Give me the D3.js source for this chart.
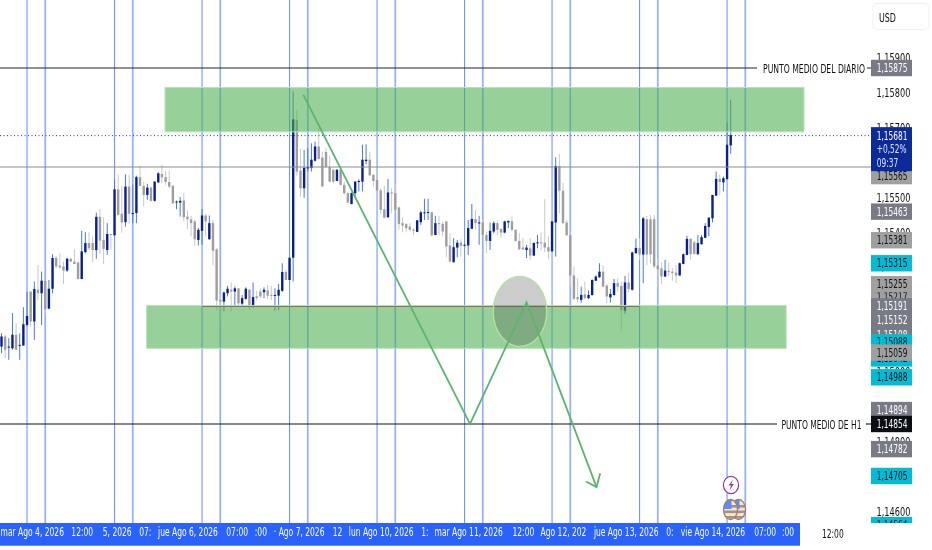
<!DOCTYPE html>
<html>
<head>
<meta charset="utf-8">
<script src="https://cdn.jsdelivr.net/npm/d3@7"></script>
<style>
    body { margin: 0; background: #fff; }
    svg { display: block; filter: blur(0.3px); }
    text { font-family: "DejaVu Sans", sans-serif; }
</style>
</head>
<body>
<div id="chart"></div>
<script>
//hourly candles, index = trading hours since mar Ago 4 00:00
const opens = [
1.15076,1.15105,1.15073,1.15071,1.15110,1.15079,1.15079,1.15138,1.15234,1.15148,
1.15239,1.15229,1.15265,1.15185,1.15242,1.15330,1.15308,1.15306,1.15294,1.15328,
1.15320,1.15317,1.15270,1.15347,1.15373,1.15373,1.15353,1.15448,1.15382,1.15353,
1.15399,1.15395,1.15527,1.15457,1.15433,1.15535,1.15457,1.15459,1.15562,1.15537,
1.15511,1.15532,1.15494,1.15547,1.15571,1.15562,1.15548,1.15537,1.15490,1.15489,
1.15495,1.15449,1.15441,1.15435,1.15382,1.15408,1.15452,1.15384,1.15430,1.15355,
1.15210,1.15205,1.15229,1.15239,1.15234,1.15243,1.15199,1.15213,1.15239,1.15189,
1.15220,1.15234,1.15232,1.15237,1.15224,1.15222,1.15222,1.15236,1.15290,1.15267,
1.15331,1.15726,1.15581,1.15530,1.15587,1.15588,1.15609,1.15650,1.15618,1.15634,
1.15591,1.15583,1.15551,1.15583,1.15540,1.15516,1.15485,1.15516,1.15548,1.15549,
1.15608,1.15612,1.15569,1.15554,1.15524,1.15470,1.15447,1.15518,1.15516,1.15475,
1.15430,1.15427,1.15420,1.15411,1.15405,1.15433,1.15460,1.15460,1.15461,1.15396,
1.15430,1.15428,1.15435,1.15366,1.15318,1.15360,1.15374,1.15367,1.15366,1.15414,
1.15442,1.15429,1.15432,1.15396,1.15379,1.15406,1.15430,1.15413,1.15403,1.15432,
1.15435,1.15411,1.15379,1.15360,1.15353,1.15358,1.15337,1.15373,1.15375,1.15374,
1.15361,1.15349,1.15432,1.15594,1.15523,1.15432,1.15396,1.15280,1.15218,1.15210,
1.15226,1.15215,1.15224,1.15265,1.15275,1.15291,1.15251,1.15217,1.15224,1.15258,
1.15250,1.15179,1.15260,1.15239,1.15344,1.15359,1.15340,1.15441,1.15441,1.15441,
1.15308,1.15300,1.15277,1.15293,1.15291,1.15288,1.15280,1.15313,1.15339,1.15385,
1.15375,1.15341,1.15370,1.15388,1.15419,1.15444,1.15509,1.15557,1.15547,1.15556,
1.15653];
const highs = [
1.15114,1.15110,1.15100,1.15172,1.15143,1.15114,1.15189,1.15234,1.15234,1.15263,
1.15310,1.15291,1.15267,1.15267,1.15341,1.15336,1.15344,1.15320,1.15330,1.15331,
1.15355,1.15320,1.15408,1.15404,1.15404,1.15392,1.15460,1.15470,1.15446,1.15430,
1.15399,1.15556,1.15570,1.15537,1.15570,1.15569,1.15540,1.15566,1.15594,1.15549,
1.15543,1.15535,1.15551,1.15576,1.15597,1.15581,1.15581,1.15540,1.15495,1.15505,
1.15516,1.15466,1.15451,1.15439,1.15416,1.15470,1.15456,1.15452,1.15439,1.15358,
1.15229,1.15234,1.15250,1.15260,1.15248,1.15243,1.15224,1.15246,1.15241,1.15260,
1.15237,1.15243,1.15246,1.15253,1.15250,1.15243,1.15256,1.15315,1.15296,1.15331,
1.15808,1.15755,1.15643,1.15640,1.15645,1.15659,1.15664,1.15702,1.15635,1.15645,
1.15623,1.15585,1.15585,1.15591,1.15549,1.15518,1.15518,1.15551,1.15556,1.15655,
1.15656,1.15635,1.15569,1.15581,1.15530,1.15537,1.15557,1.15530,1.15545,1.15478,
1.15447,1.15430,1.15430,1.15416,1.15439,1.15466,1.15500,1.15500,1.15463,1.15451,
1.15451,1.15435,1.15437,1.15401,1.15387,1.15382,1.15384,1.15373,1.15439,1.15485,
1.15468,1.15451,1.15441,1.15406,1.15432,1.15435,1.15438,1.15416,1.15437,1.15438,
1.15449,1.15413,1.15401,1.15387,1.15368,1.15387,1.15375,1.15396,1.15404,1.15499,
1.15392,1.15435,1.15619,1.15629,1.15545,1.15439,1.15403,1.15306,1.15272,1.15248,
1.15263,1.15237,1.15269,1.15280,1.15315,1.15310,1.15256,1.15241,1.15270,1.15272,
1.15263,1.15279,1.15288,1.15348,1.15386,1.15387,1.15447,1.15451,1.15454,1.15454,
1.15330,1.15317,1.15325,1.15317,1.15301,1.15310,1.15317,1.15343,1.15394,1.15387,
1.15379,1.15396,1.15396,1.15430,1.15446,1.15511,1.15578,1.15569,1.15564,1.15719,
1.15784];
const lows = [
1.15057,1.15043,1.15038,1.15067,1.15067,1.15038,1.15079,1.15134,1.15134,1.15095,
1.15210,1.15138,1.15167,1.15183,1.15229,1.15301,1.15301,1.15255,1.15291,1.15317,
1.15312,1.15269,1.15269,1.15344,1.15353,1.15318,1.15328,1.15342,1.15313,1.15339,
1.15353,1.15395,1.15451,1.15403,1.15420,1.15428,1.15430,1.15430,1.15537,1.15478,
1.15497,1.15492,1.15492,1.15545,1.15545,1.15540,1.15530,1.15485,1.15470,1.15449,
1.15435,1.15413,1.15392,1.15365,1.15366,1.15368,1.15392,1.15382,1.15309,1.15181,
1.15148,1.15177,1.15220,1.15177,1.15191,1.15189,1.15191,1.15210,1.15181,1.15189,
1.15208,1.15215,1.15215,1.15212,1.15210,1.15179,1.15181,1.15233,1.15267,1.15267,
1.15263,1.15566,1.15506,1.15503,1.15578,1.15578,1.15607,1.15612,1.15535,1.15590,
1.15548,1.15545,1.15551,1.15537,1.15511,1.15487,1.15484,1.15503,1.15521,1.15521,
1.15599,1.15566,1.15535,1.15523,1.15457,1.15444,1.15444,1.15459,1.15466,1.15411,
1.15404,1.15406,1.15406,1.15396,1.15405,1.15425,1.15439,1.15439,1.15392,1.15396,
1.15396,1.15392,1.15332,1.15317,1.15317,1.15332,1.15334,1.15363,1.15339,1.15414,
1.15411,1.15368,1.15394,1.15344,1.15353,1.15401,1.15396,1.15389,1.15401,1.15416,
1.15406,1.15377,1.15353,1.15353,1.15330,1.15325,1.15336,1.15358,1.15353,1.15346,
1.15327,1.15349,1.15334,1.15459,1.15428,1.15394,1.15248,1.15210,1.15202,1.15202,
1.15212,1.15212,1.15222,1.15264,1.15273,1.15246,1.15200,1.15202,1.15222,1.15234,
1.15122,1.15170,1.15231,1.15237,1.15342,1.15325,1.15258,1.15310,1.15315,1.15301,
1.15246,1.15256,1.15275,1.15277,1.15265,1.15258,1.15279,1.15312,1.15338,1.15325,
1.15339,1.15339,1.15368,1.15387,1.15392,1.15432,1.15508,1.15511,1.15521,1.15556,
1.15629];
const closes = [
1.15105,1.15067,1.15076,1.15110,1.15067,1.15081,1.15140,1.15164,1.15148,1.15241,
1.15229,1.15265,1.15183,1.15242,1.15330,1.15306,1.15303,1.15294,1.15328,1.15320,
1.15313,1.15270,1.15349,1.15373,1.15358,1.15353,1.15448,1.15380,1.15356,1.15399,
1.15396,1.15527,1.15454,1.15432,1.15535,1.15457,1.15459,1.15562,1.15537,1.15511,
1.15532,1.15494,1.15549,1.15573,1.15561,1.15548,1.15535,1.15487,1.15492,1.15494,
1.15447,1.15441,1.15430,1.15384,1.15411,1.15452,1.15435,1.15430,1.15351,1.15208,
1.15205,1.15231,1.15242,1.15234,1.15243,1.15200,1.15215,1.15242,1.15193,1.15218,
1.15215,1.15220,1.15239,1.15222,1.15222,1.15224,1.15239,1.15290,1.15267,1.15331,
1.15728,1.15578,1.15530,1.15589,1.15591,1.15612,1.15650,1.15614,1.15535,1.15591,
1.15549,1.15549,1.15583,1.15540,1.15516,1.15489,1.15516,1.15549,1.15551,1.15612,
1.15612,1.15567,1.15551,1.15524,1.15468,1.15446,1.15518,1.15516,1.15468,1.15428,
1.15423,1.15416,1.15411,1.15409,1.15438,1.15461,1.15461,1.15462,1.15395,1.15430,
1.15428,1.15406,1.15363,1.15320,1.15361,1.15374,1.15365,1.15368,1.15416,1.15442,
1.15430,1.15432,1.15396,1.15379,1.15408,1.15430,1.15411,1.15403,1.15435,1.15436,
1.15411,1.15379,1.15355,1.15355,1.15360,1.15337,1.15373,1.15375,1.15373,1.15360,
1.15349,1.15435,1.15594,1.15523,1.15430,1.15395,1.15280,1.15213,1.15212,1.15224,
1.15215,1.15224,1.15267,1.15277,1.15291,1.15248,1.15220,1.15227,1.15258,1.15248,
1.15181,1.15260,1.15241,1.15346,1.15359,1.15340,1.15444,1.15340,1.15340,1.15306,
1.15298,1.15277,1.15294,1.15291,1.15287,1.15280,1.15315,1.15341,1.15385,1.15341,
1.15342,1.15373,1.15390,1.15422,1.15446,1.15511,1.15557,1.15548,1.15559,1.15655,
1.15683];

//blue vertical lines at 07:00 and 12:00 of each day
const sevenHours = [7, 31, 55, 79, 103, 127, 151, 175, 199];
const noonHours = [12, 36, 60, 84, 108, 132, 156, 180, 204];

//time axis labels (some are cut in the original because they overlap)
const timeTickHours = [8.3, 22, 31.6, 39.3, 51, 64.5, 71, 81.5, 92, 104, 116, 128, 143, 154, 171.2, 183.2, 195, 209.3, 215.6];
const timeTickLabels = ["mar Ago 4, 2026", "12:00", "5, 2026", "07:", "jue Ago 6, 2026", "07:00", ":00", "· Ago 7, 2026", "12", "lun Ago 10, 2026", "1:", "mar Ago 11, 2026", "12:00", "Ago 12, 202", "jue Ago 13, 2026", "0:", "vie Ago 14, 2026", "07:00", ":00"];
const outsideTickHour = 228;
const outsideTickLabel = "12:00";

//price axis
const priceTicks = [1.159, 1.158, 1.157, 1.156, 1.155, 1.154, 1.153, 1.152, 1.151, 1.150, 1.149, 1.148, 1.147, 1.146];

//price tags, in paint order
const tagPrices = [1.15875, 1.15565, 1.15463, 1.15381, 1.15315, 1.15217, 1.15255, 1.15108, 1.15191, 1.15152, 1.15042, 1.15088, 1.15059, 1.14988, 1.14894, 1.14782, 1.14854, 1.14705, 1.14564];
const tagKinds = ["dark", "light", "dark", "light", "cyan", "light", "light", "dark", "dark", "dark", "cyan", "cyan", "light", "cyan", "dark", "dark", "black", "cyan", "cyan"];

//drawings
const lastPrice = 1.15681;
const lastChange = "+0,52%";
const lastCountdown = "09:37";
const middayPrice = 1.15591;
const supportPrice = 1.15191;
const supportFromHour = 55;
const supportToHour = 175;
const dailyMidPrice = 1.15875;
const dailyMidLabel = "PUNTO MEDIO DEL DIARIO";
const h1MidPrice = 1.14854;
const h1MidLabel = "PUNTO MEDIO DE H1";
const zoneHours = [[44.84, 220.1], [39.8, 215.2]];
const zonePrices = [[1.15819, 1.15692], [1.15194, 1.15071]];
const pathHours = [82.8, 128.5, 144, 163.2];
const pathPrices = [1.15798, 1.14854, 1.15203, 1.14673];
const arrowArmHours = [160.3, 163.2, 164.2];
const arrowArmPrices = [1.14689, 1.14673, 1.14713];

const width = 932, height = 550;
const plotBottom = 523, axisBottom = 545.7, axisRight = 800, priceLeft = 871, priceRight = 912;

const svg = d3.select("#chart").append("svg")
    .attr("width", width)
    .attr("height", height);

const xScale = d3.scaleLinear().domain([0, 204]).range([1.5, 745.3]);
const yScale = d3.scaleLinear().domain([1.15875, 1.14854]).range([68, 424]);

//the installed fonts are wider than the chart's, so squeeze the glyphs
function squeeze(selection, k) {
    selection.each(function () {
        this.setAttribute("textLength", this.getComputedTextLength() * k);
        this.setAttribute("lengthAdjust", "spacingAndGlyphs");
    });
}

svg.append("clipPath").attr("id", "plot")
    .append("rect").attr("width", width).attr("height", plotBottom);

const plot = svg.append("g").attr("clip-path", "url(#plot)");

//vertical lines
plot.selectAll(".seven").data(sevenHours).enter().append("line")
    .attr("x1", d => xScale(d)).attr("x2", d => xScale(d))
    .attr("y1", 0).attr("y2", plotBottom)
    .attr("stroke", "#6f97ff").attr("stroke-width", 1.1);
plot.selectAll(".noon").data(noonHours).enter().append("line")
    .attr("x1", d => xScale(d)).attr("x2", d => xScale(d))
    .attr("y1", 0).attr("y2", plotBottom)
    .attr("stroke", "#93aeff").attr("stroke-width", 1.7);

//candles
const isUp = i => closes[i] >= opens[i];
plot.selectAll(".wick").data(opens).enter().append("line")
    .attr("x1", (d, i) => xScale(i)).attr("x2", (d, i) => xScale(i))
    .attr("y1", (d, i) => yScale(highs[i])).attr("y2", (d, i) => yScale(lows[i]))
    .attr("stroke", (d, i) => isUp(i) ? "#4a78d8" : "#c8c8c8")
    .attr("stroke-width", 1);
plot.selectAll(".body").data(opens).enter().append("rect")
    .attr("x", (d, i) => xScale(i) - 1.2)
    .attr("width", 2.4)
    .attr("y", (d, i) => yScale(Math.max(opens[i], closes[i])))
    .attr("height", (d, i) => Math.max(1, Math.abs(yScale(opens[i]) - yScale(closes[i]))))
    .attr("fill", (d, i) => isUp(i) ? "#0c1f8f" : "#9e9e9e");

//horizontal levels
function level(price, x1, x2, color, w, dash) {
    svg.append("line")
        .attr("x1", x1).attr("x2", x2)
        .attr("y1", yScale(price)).attr("y2", yScale(price))
        .attr("stroke", color).attr("stroke-width", w)
        .attr("stroke-dasharray", dash || null);
}
level(lastPrice, 0, priceLeft, "#1f3ca8", 1, "1,2.5");
level(middayPrice, 0, priceLeft, "#8c8c8c", 1.2);
level(dailyMidPrice, 0, 757, "#222", 1);
level(dailyMidPrice, 867, priceLeft, "#222", 1);
level(h1MidPrice, 0, 777, "#111", 1.1);
level(h1MidPrice, 866, priceLeft, "#111", 1.1);

//green zones
svg.selectAll(".zone").data(zoneHours).enter().append("rect")
    .attr("x", d => xScale(d[0]))
    .attr("width", d => xScale(d[1]) - xScale(d[0]))
    .attr("y", (d, i) => yScale(zonePrices[i][0]))
    .attr("height", (d, i) => yScale(zonePrices[i][1]) - yScale(zonePrices[i][0]))
    .attr("fill", "#4caf50").attr("fill-opacity", 0.58)
    .attr("stroke", "#b9e2ba").attr("stroke-width", 1);

level(supportPrice, xScale(supportFromHour), xScale(supportToHour), "#8d6e5a", 1);

//grey circle around the retest
svg.append("ellipse")
    .attr("cx", xScale(142.2)).attr("cy", yScale(1.15177))
    .attr("rx", 26.7).attr("ry", 35)
    .attr("fill", "rgb(66,66,66)").attr("fill-opacity", 0.27)
    .attr("stroke", "#b5e0a0").attr("stroke-width", 1.3);

//projected path with its arrow
const pathLine = d3.line().x(d => xScale(d[0])).y(d => yScale(d[1]));
[d3.zip(pathHours, pathPrices), d3.zip(arrowArmHours, arrowArmPrices)].forEach(function (pts) {
    svg.append("path").attr("d", pathLine(pts))
        .attr("fill", "none").attr("stroke", "#5cb56f").attr("stroke-width", 1.8);
});

//level captions
svg.append("text").attr("x", 763).attr("y", yScale(dailyMidPrice) + 4.5)
    .attr("font-size", 12).attr("fill", "#111").text(dailyMidLabel)
    .attr("textLength", 102).attr("lengthAdjust", "spacingAndGlyphs");
svg.append("text").attr("x", 781.5).attr("y", yScale(h1MidPrice) + 4.5)
    .attr("font-size", 12).attr("fill", "#111").text(h1MidLabel)
    .attr("textLength", 80).attr("lengthAdjust", "spacingAndGlyphs");

//event icons
const icons = svg.append("g").attr("clip-path", "url(#plot)");
icons.append("ellipse").attr("cx", 731).attr("cy", 485).attr("rx", 7.6).attr("ry", 8.6)
    .attr("fill", "#fff").attr("stroke", "#8e3d9e").attr("stroke-width", 1.2);
icons.append("path").attr("d", "M733 479.5 L728.5 485.5 L731 485.5 L729.5 490.5 L733.8 484 L731.2 484 Z")
    .attr("fill", "#8e3d9e");
[738.5, 730.5].forEach(function (cx, k) {
    const id = "flag" + k;
    icons.append("clipPath").attr("id", id)
        .append("ellipse").attr("cx", cx).attr("cy", 509.5).attr("rx", 7).attr("ry", 10);
    const flag = icons.append("g").attr("clip-path", "url(#" + id + ")");
    flag.append("rect").attr("x", cx - 8).attr("y", 499).attr("width", 16).attr("height", 22).attr("fill", "#efe6df");
    d3.range(3).forEach(function (s) {
        flag.append("rect").attr("x", cx - 8).attr("y", 505 + s * 5.5).attr("width", 16).attr("height", 2.6).attr("fill", "#b08f7a");
    });
    flag.append("rect").attr("x", cx - 8).attr("y", 499).attr("width", 9).attr("height", 10).attr("fill", "#5b8cf0");
    icons.append("ellipse").attr("cx", cx).attr("cy", 509.5).attr("rx", 7).attr("ry", 10)
        .attr("fill", "none").attr("stroke", "#a1806b").attr("stroke-width", 1.3);
});

//time axis
svg.append("rect").attr("x", 0).attr("y", plotBottom)
    .attr("width", axisRight).attr("height", axisBottom - plotBottom)
    .attr("fill", "#2962ff");
const timeAxis = d3.axisBottom(xScale)
    .tickValues(timeTickHours)
    .tickSize(0)
    .tickPadding(0)
    .tickFormat((d, i) => timeTickLabels[i]);
const timeAxisG = svg.append("g")
    .attr("transform", "translate(0," + (plotBottom + 4.5) + ")")
    .call(timeAxis);
timeAxisG.select(".domain").remove();
timeAxisG.selectAll("text").attr("fill", "#fff")
    .style("font-family", '"DejaVu Sans", sans-serif')
    .style("font-size", "12px")
    .call(squeeze, 0.63);
svg.append("text").attr("x", xScale(outsideTickHour)).attr("y", plotBottom + 15)
    .attr("text-anchor", "middle").attr("font-size", 12).attr("fill", "#111")
    .text(outsideTickLabel)
    .call(squeeze, 0.63);

//price axis
const priceText = d => d3.format(".5f")(d).replace(".", ",");
const priceAxis = d3.axisRight(yScale)
    .tickValues(priceTicks)
    .tickSize(0)
    .tickPadding(0)
    .tickFormat(priceText);
const priceAxisG = svg.append("g")
    .attr("clip-path", "url(#plot)")
    .attr("transform", "translate(876.5,-1.5)")
    .call(priceAxis);
priceAxisG.select(".domain").remove();
priceAxisG.selectAll("text").attr("fill", "#111")
    .style("font-family", '"DejaVu Sans", sans-serif')
    .style("font-size", "12.5px")
    .call(squeeze, 0.655);

//price tags
const tagColors = {dark: "#787b86", light: "#a0a0a0", cyan: "#00bcd4", black: "#0c0e15"};
const tagTextColors = {dark: "#fff", light: "#111", cyan: "#06141a", black: "#fff"};
const tags = svg.append("g").attr("clip-path", "url(#plot)");
tagPrices.forEach(function (p, i) {
    const kind = tagKinds[i];
    tags.append("rect")
        .attr("x", priceLeft).attr("width", priceRight - priceLeft)
        .attr("y", yScale(p) - 8.2).attr("height", 16.4)
        .attr("fill", tagColors[kind]);
    tags.append("text")
        .attr("x", 876.7).attr("y", yScale(p) + 4)
        .attr("font-size", 12).attr("fill", tagTextColors[kind])
        .text(priceText(p))
        .call(squeeze, 0.62);
});

//last price tag
const lastY = yScale(lastPrice);
svg.append("rect")
    .attr("x", priceLeft).attr("width", priceRight - priceLeft)
    .attr("y", lastY - 8.5).attr("height", 44)
    .attr("fill", "#0d2a9a");
[priceText(lastPrice), lastChange, lastCountdown].forEach(function (t, i) {
    svg.append("text")
        .attr("x", 876.7).attr("y", lastY + 4 + i * 13.5)
        .attr("font-size", 12).attr("fill", i === 0 ? "#fff" : "#dfe4f8")
        .text(t)
        .call(squeeze, 0.62);
});

//currency box
svg.append("rect")
    .attr("x", 873).attr("y", 3.5)
    .attr("width", 56).attr("height", 26).attr("rx", 4)
    .attr("fill", "#fff").attr("stroke", "#f0f0f0");
svg.append("text").attr("x", 879).attr("y", 21.5)
    .attr("font-size", 12).attr("fill", "#111").text("USD")
    .call(squeeze, 0.66);
</script>
</body>
</html>
